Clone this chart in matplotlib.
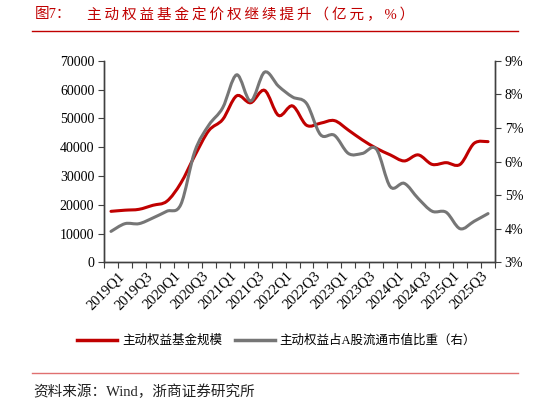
import matplotlib
matplotlib.use('Agg')
import matplotlib.pyplot as plt
import matplotlib.transforms as mtransforms
from matplotlib.path import Path
from matplotlib.patches import PathPatch
from matplotlib.lines import Line2D
import numpy as np

plt.rcParams['font.family'] = ['Liberation Serif', 'Noto Sans CJK SC', 'DejaVu Sans']

# ── Data ──────────────────────────────────────────────────────────────────────
QUARTERS = ['2019Q1', '2019Q2', '2019Q3', '2019Q4',
            '2020Q1', '2020Q2', '2020Q3', '2020Q4',
            '2021Q1', '2021Q2', '2021Q3', '2021Q4',
            '2022Q1', '2022Q2', '2022Q3', '2022Q4',
            '2023Q1', '2023Q2', '2023Q3', '2023Q4',
            '2024Q1', '2024Q2', '2024Q3', '2024Q4',
            '2025Q1', '2025Q2', '2025Q3', '2025Q4']

# 主动权益基金规模（亿元）
fund_size = [17700, 18100, 18400, 19800, 21200, 27500, 37000, 45700,
             49600, 57800, 55400, 59700, 51000, 54300, 47600, 48300,
             49200, 45900, 42500, 39600, 37300, 35200, 37300, 34000,
             34600, 34000, 41300, 41900]

# 主动权益占A股流通市值比重（%）
share_pct = [3.92, 4.15, 4.15, 4.32, 4.52, 4.72, 6.30, 7.08,
             7.60, 8.58, 7.80, 8.66, 8.24, 7.92, 7.73, 6.80,
             6.78, 6.24, 6.24, 6.37, 5.25, 5.35, 4.90, 4.52,
             4.49, 4.00, 4.22, 4.45]

LBL_SIZE  = '主动权益基金规模'
LBL_SHARE = '主动权益占A股流通市值比重（右）'
TITLE_NO  = '图7：'
TITLE     = '主动权益基金定价权继续提升（亿元，%）'
SOURCE    = '资料来源：Wind，浙商证券研究所'

RED  = '#C00000'
GRAY = '#767676'
AXC  = '#404040'


def smooth_path(xs, ys):
    """Excel-like smoothed line as cubic Bezier segments."""
    pts = np.column_stack([xs, ys]).astype(float)
    n = len(pts)
    verts = [pts[0]]
    codes = [Path.MOVETO]
    for i in range(n - 1):
        p0 = pts[i - 1] if i > 0 else pts[i]
        p1 = pts[i]
        p2 = pts[i + 1]
        p3 = pts[i + 2] if i + 2 < n else pts[i + 1]
        c1 = p1 + (p2 - p0) / 6.0
        c2 = p2 - (p3 - p1) / 6.0
        verts += [c1, c2, p2]
        codes += [Path.CURVE4] * 3
    return Path(verts, codes)


fig = plt.figure(figsize=(5.48, 4.05), dpi=100)
ax = fig.add_axes([0.1898, 0.3523, 0.9033 - 0.1898, 0.8501 - 0.3523])
ax2 = ax.twinx()

x = np.arange(len(QUARTERS))

ax.add_patch(PathPatch(smooth_path(x, fund_size), facecolor='none',
                       edgecolor=RED, lw=2.2, capstyle='round', zorder=3))
ax2.add_patch(PathPatch(smooth_path(x, share_pct), facecolor='none',
                        edgecolor=GRAY, lw=2.2, capstyle='round', zorder=2))

ax.set_xlim(-0.5, len(QUARTERS) - 0.5)
ax.set_ylim(0, 70000)
ax.set_yticks(np.arange(0, 70001, 10000))
ax2.set_ylim(3, 9)
ax2.set_yticks(np.arange(3, 10, 1))
ax2.set_yticklabels([f'{v}%' for v in range(3, 10)])

# quarter boundaries as tick marks, labels every other quarter at centers
ax.set_xticks(np.arange(-0.5, len(QUARTERS), 1.0))
ax.set_xticklabels([])
ax.set_xticks(x[::2], minor=True)
ax.set_xticklabels(QUARTERS[::2], minor=True, rotation=45, ha='right',
                   va='top', rotation_mode='anchor', fontsize=10.5)
ax.tick_params(axis='x', which='major', length=4, direction='out', color=AXC)
ax.tick_params(axis='x', which='minor', length=0, pad=5)
shift = mtransforms.ScaledTranslation(0.07, 0, fig.dpi_scale_trans)
for lbl in ax.get_xticklabels(minor=True):
    lbl.set_transform(lbl.get_transform() + shift)

for a in (ax, ax2):
    a.spines['top'].set_visible(False)
    for s in ('left', 'right', 'bottom'):
        a.spines[s].set_color(AXC)
        a.spines[s].set_linewidth(1.0)
    a.tick_params(axis='y', length=4, direction='out', color=AXC,
                  labelsize=10, pad=3)

# ── Texts, rules, legend ─────────────────────────────────────────────────────
fig.text(0.064, 0.963, TITLE_NO, color=RED, fontsize=10.5, va='center', ha='left')
fig.text(0.158, 0.963, '\u2009'.join(TITLE), color=RED, fontsize=10.5,
         va='center', ha='left')
fig.add_artist(Line2D([0.058, 0.946], [0.924, 0.924], color=RED, lw=1.0))
fig.add_artist(Line2D([0.058, 0.946], [0.078, 0.078], color='#E07070', lw=1.0))
fig.text(0.060, 0.033, SOURCE, color='#222222', fontsize=10.5, va='center', ha='left')

handles = [Line2D([], [], color=RED, lw=2.5), Line2D([], [], color=GRAY, lw=2.5)]
fig.legend(handles, [LBL_SIZE, LBL_SHARE], loc='center', ncol=2,
           bbox_to_anchor=(0.505, 0.158), frameon=False, fontsize=9,
           handlelength=3.2, handletextpad=0.4, columnspacing=1.0)

plt.savefig('out.png', dpi=100, facecolor='white')
